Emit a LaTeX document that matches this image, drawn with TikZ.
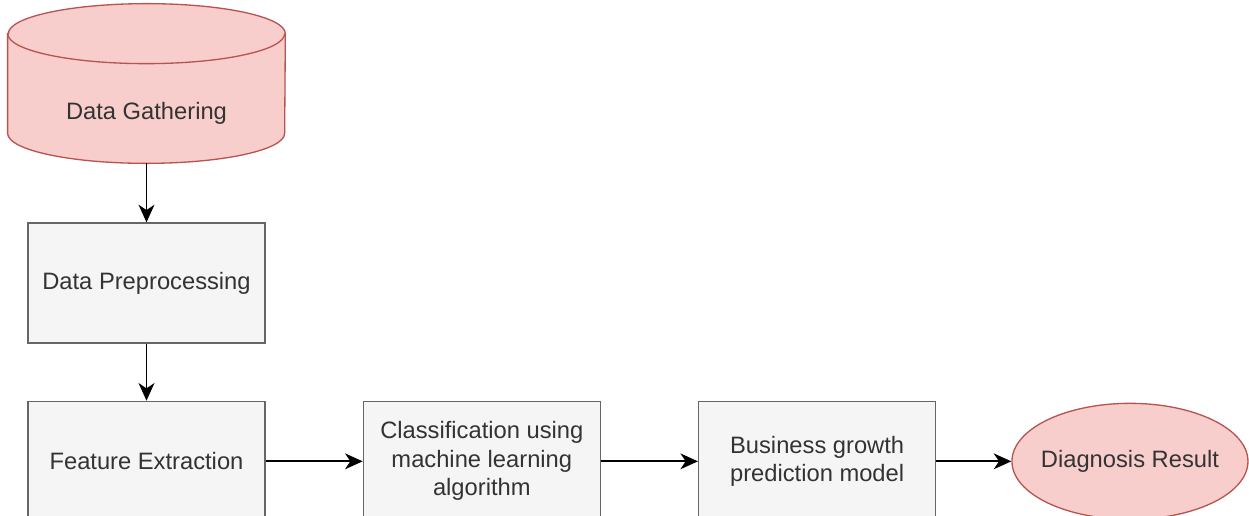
\documentclass[tikz,border=0pt]{standalone}
\usepackage{fontspec}
\setmainfont{Liberation Sans}
\usepackage{tikz}
\usetikzlibrary{arrows.meta,positioning,shapes.geometric,backgrounds}
\definecolor{redfill}{HTML}{F8CECC}
\definecolor{redline}{HTML}{B85450}
\definecolor{grayfill}{HTML}{F5F5F5}
\definecolor{grayline}{HTML}{666666}
\definecolor{graytext}{HTML}{333333}
\tikzset{
    %Define standard arrow tip
    >={Stealth[length=10pt,width=9pt,inset=3pt]},
    %Define style for boxes
    stepbox/.style={
           rectangle,
           fill=grayfill,
           draw=grayline, line width=0.75pt,
           text=graytext,
           minimum width=4.74cm,
           minimum height=2.4cm,
           align=center},
    % text area of the cylinder, the cylinder is drawn round it
    store/.style={
           rectangle,
           text=graytext,
           minimum width=5.54cm,
           minimum height=1.98cm},
    storeline/.style={
           fill=redfill,
           draw=redline, line width=0.75pt},
    result/.style={
           ellipse,
           fill=redfill,
           draw=redline, line width=0.75pt,
           text=graytext,
           inner sep=0pt,
           minimum width=4.72cm,
           minimum height=2.32cm},
    % Define arrow style
    pil/.style={
           ->,
           line width=1pt}
}
\begin{document}
\begin{tikzpicture}[font=\fontsize{13.5}{16.2}\selectfont]
\useasboundingbox (0,0) rectangle (24.98,10.3);
\clip (0,0) rectangle (24.98,10.3);

 %nodes
\node[store](gather) at (2.93,8.03){Data Gathering};
\node[stepbox, below=1.18cm of gather](prep){Data Preprocessing};
\node[stepbox, below=1.14cm of prep](feat){Feature Extraction};
\node[stepbox, right=1.94cm of feat](classify){Classification using\\machine learning\\algorithm};
\node[stepbox, right=1.94cm of classify](growth){Business growth\\prediction model};
\node[result, right=1.50cm of growth](diag){\makebox[0pt]{Diagnosis Result}};

 %cylinder
\begin{scope}[on background layer]
\filldraw[storeline] ([yshift=0.6cm]gather.north west) -- ([yshift=0.6cm]gather.south west)
    arc[start angle=180, end angle=360, x radius=2.77cm, y radius=0.6cm]
    -- ([yshift=0.6cm]gather.north east)
    arc[start angle=0, end angle=180, x radius=2.77cm, y radius=0.6cm] -- cycle;
\draw[storeline, fill=none] ([yshift=0.6cm]gather.north west)
    arc[start angle=180, end angle=360, x radius=2.77cm, y radius=0.6cm];
\end{scope}

 \path[pil]
    (gather) edge (prep)
    (prep) edge (feat)
    (feat) edge (classify)
    (classify) edge (growth)
    (growth) edge (diag);

\end{tikzpicture}
\end{document}
